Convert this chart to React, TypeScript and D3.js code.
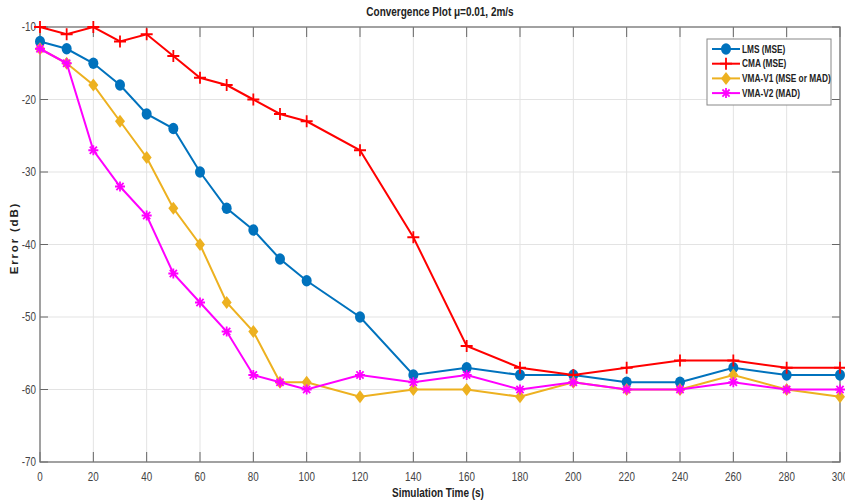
import React from "react";
import * as d3 from "d3";

const xValues = [0, 10, 20, 30, 40, 50, 60, 70, 80, 90, 100, 120, 140, 160, 180, 200, 220, 240, 260, 280, 300];
const lmsValues = [-12, -13, -15, -18, -22, -24, -30, -35, -38, -42, -45, -50, -58, -57, -58, -58, -59, -59, -57, -58, -58];
const cmaValues = [-10, -11, -10, -12, -11, -14, -17, -18, -20, -22, -23, -27, -39, -54, -57, -58, -57, -56, -56, -57, -57];
const vma1Values = [-13, -15, -18, -23, -28, -35, -40, -48, -52, -59, -59, -61, -60, -60, -61, -59, -60, -60, -58, -60, -61];
const vma2Values = [-13, -15, -27, -32, -36, -44, -48, -52, -58, -59, -60, -58, -59, -58, -60, -59, -60, -60, -59, -60, -60];
const seriesNames = ["LMS (MSE)", "CMA (MSE)", "VMA-V1 (MSE or MAD)", "VMA-V2 (MAD)"];
const seriesColors = ["#0072BD", "#FF0000", "#EDB120", "#FF00FF"];
const seriesMarkers = ["circle", "plus", "diamond", "asterisk"];
const xTicks = [0, 20, 40, 60, 80, 100, 120, 140, 160, 180, 200, 220, 240, 260, 280, 300];
const yTicks = [-10, -20, -30, -40, -50, -60, -70];

const W = 845, H = 504;
const L = 40, R = 840, T = 27, B = 462;

function Marker({ type, x, y, color }: { type: string; x: number; y: number; color: string }) {
  if (type === "circle") return <ellipse cx={x} cy={y} rx={5} ry={5.8} fill={color} />;
  if (type === "diamond")
    return <path d={`M${x},${y - 6.5}L${x + 5},${y}L${x},${y + 6.5}L${x - 5},${y}Z`} fill={color} />;
  if (type === "plus")
    return <path d={`M${x - 6},${y}H${x + 6}M${x},${y - 6}V${y + 6}`} stroke={color} strokeWidth={1.8} />;
  const r = 5;
  return (
    <path
      d={`M${x - r},${y}H${x + r}M${x},${y - r}V${y + r}M${x - r * 0.72},${y - r * 0.72}L${x + r * 0.72},${y + r * 0.72}M${x - r * 0.72},${y + r * 0.72}L${x + r * 0.72},${y - r * 0.72}`}
      stroke={color}
      strokeWidth={1.8}
    />
  );
}

function NText({
  x, y, sx, anchor, size, bold, children,
}: { x: number; y: number; sx: number; anchor?: string; size: number; bold?: boolean; children: React.ReactNode }) {
  return (
    <g transform={`translate(${x},${y}) scale(${sx},1)`}>
      <text
        x={0}
        y={0}
        textAnchor={anchor || "start"}
        fontSize={size}
        fontWeight={bold ? "bold" : "normal"}
        fill={bold ? "#222" : "#444"}
        fontFamily="'Liberation Sans', Arial, sans-serif"
      >
        {children}
      </text>
    </g>
  );
}

export default function App() {
  const x = d3.scaleLinear().domain([0, 300]).range([L, R]);
  const y = d3.scaleLinear().domain([-70, -10]).range([B, T]);
  const data = [lmsValues, cmaValues, vma1Values, vma2Values];
  const line = d3
    .line<number>()
    .x((_, i) => x(xValues[i]))
    .y((d) => y(d));
  const legendX = 707, legendY = 39, legendW = 124, legendH = 66;
  return (
    <svg width={W} height={H} style={{ position: "absolute", left: 0, top: 0, background: "#fff" }}>
      <rect x={0} y={0} width={W} height={H} fill="#fff" />
      {xTicks.map((t) => (
        <line key={"gx" + t} x1={x(t)} x2={x(t)} y1={T} y2={B} stroke="#e3e3e3" strokeWidth={1} />
      ))}
      {yTicks.map((t) => (
        <line key={"gy" + t} x1={L} x2={R} y1={y(t)} y2={y(t)} stroke="#e3e3e3" strokeWidth={1} />
      ))}
      {xTicks.map((t) => (
        <g key={"tx" + t}>
          <line x1={x(t)} x2={x(t)} y1={B} y2={B - 10} stroke="#666" strokeWidth={1} />
          <line x1={x(t)} x2={x(t)} y1={T} y2={T + 10} stroke="#666" strokeWidth={1} />
          <NText x={x(t)} y={481} sx={0.82} anchor="middle" size={12}>
            {t}
          </NText>
        </g>
      ))}
      {yTicks.map((t) => (
        <g key={"ty" + t}>
          <line x1={L} x2={L + 8} y1={y(t)} y2={y(t)} stroke="#666" strokeWidth={1} />
          <line x1={R} x2={R - 8} y1={y(t)} y2={y(t)} stroke="#666" strokeWidth={1} />
          <NText x={36} y={y(t) + 4} sx={0.82} anchor="end" size={12}>
            {t}
          </NText>
        </g>
      ))}
      <rect x={L} y={T} width={R - L} height={B - T} fill="none" stroke="#777" strokeWidth={1.3} />
      {data.map((vals, si) => (
        <g key={"s" + si}>
          <path d={line(vals) || ""} fill="none" stroke={seriesColors[si]} strokeWidth={2} />
          {vals.map((v, i) => (
            <Marker key={i} type={seriesMarkers[si]} x={x(xValues[i])} y={y(v)} color={seriesColors[si]} />
          ))}
        </g>
      ))}
      <NText x={(L + R) / 2} y={16} sx={0.8} anchor="middle" size={12.5} bold>
        Convergence Plot μ=0.01, 2m/s
      </NText>
      <NText x={438} y={497} sx={0.8} anchor="middle" size={12.5} bold>
        Simulation Time (s)
      </NText>
      <text
        transform={`translate(18, ${238}) rotate(-90)`}
        textAnchor="middle"
        fontSize={11.5}
        fontWeight="bold"
        fill="#222"
        letterSpacing={1.8}
        fontFamily="'Liberation Sans', Arial, sans-serif"
      >
        Error (dB)
      </text>
      <rect x={legendX} y={legendY} width={legendW} height={legendH} fill="#fff" stroke="#888" strokeWidth={1} />
      {seriesNames.map((name, i) => {
        const ly = legendY + 10 + i * 14.7;
        return (
          <g key={"lg" + i}>
            <line x1={712} x2={740} y1={ly} y2={ly} stroke={seriesColors[i]} strokeWidth={2} />
            <Marker type={seriesMarkers[i]} x={726} y={ly} color={seriesColors[i]} />
            <NText x={742} y={ly + 3.5} sx={0.83} size={10} bold>
              {name}
            </NText>
          </g>
        );
      })}
    </svg>
  );
}
